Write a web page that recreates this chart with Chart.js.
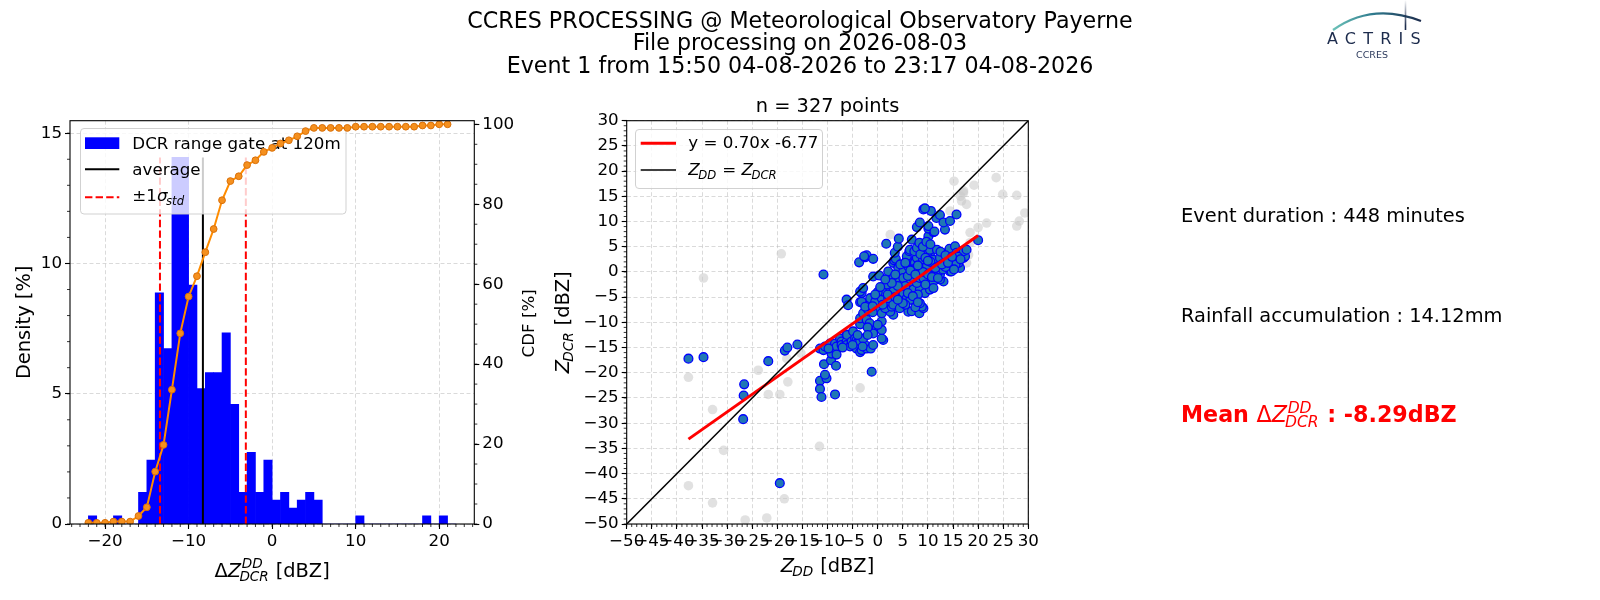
<!DOCTYPE html>
<html><head><meta charset="utf-8">
<script src="https://cdn.jsdelivr.net/npm/chart.js@4.4.0/dist/chart.umd.min.js"></script>
<style>
html,body{margin:0;padding:0;background:#fff;width:1600px;height:600px;overflow:hidden}
canvas{position:absolute;top:0}
</style></head><body>
<canvas id="ov" width="1600" height="600" style="left:0"></canvas>
<canvas id="c1" width="560" height="600" style="left:0;width:560px;height:600px"></canvas>
<canvas id="c2" width="570" height="600" style="left:530px;width:570px;height:600px"></canvas>
<script>
// ================= DATA =================
const titleLines = ['CCRES PROCESSING @ Meteorological Observatory Payerne',
  'File processing on 2026-08-03',
  'Event 1 from 15:50 04-08-2026 to 23:17 04-08-2026'];
const infoDuration = 'Event duration : 448 minutes';
const infoRain = 'Rainfall accumulation : 14.12mm';
const meanText = ' : -8.29dBZ';
const scatterTitle = 'n = 327 points';

// histogram bins (left edge, width 1 dBZ) and density [%]
const histBinLeft = [-22,-21,-20,-19,-18,-17,-16,-15,-14,-13,-12,-11,-10,-9,-8,-7,-6,-5,-4,-3,-2,-1,0,1,2,3,4,5,6,7,8,9,10,11,12,13,14,15,16,17,18,19,20,21];
const histDensity = [0.31,0,0,0.31,0,0,1.22,2.45,8.87,6.73,14.07,14.07,9.17,5.20,5.81,5.81,7.34,4.59,1.22,2.75,1.22,2.45,0.92,1.22,0.61,0.92,1.22,0.92,0,0,0,0,0.31,0,0,0,0,0,0,0,0.31,0,0.31,0];
const cdfPercent = [0.3,0.3,0.3,0.6,0.6,0.6,2.0,4.2,13.1,19.8,33.6,47.7,56.9,62.0,68.0,73.8,81.0,85.8,87.0,89.8,91.0,93.1,94.1,95.2,96.0,97.0,98.3,99.1,99.1,99.1,99.1,99.1,99.4,99.4,99.4,99.4,99.4,99.4,99.4,99.4,99.7,99.7,100,100];
const meanDZ = -8.29;
const stdDZ = 5.14;
const histXRange = [-24.2, 24.2];
const densityRange = [0, 15.48];
const cdfRange = [0, 100.9];

// scatter: Z_DD (x) vs Z_DCR (y)
const blueX = [-37.7,-34.7,-26.6,-26.7,-26.8,-21.8,-18.5,-18.0,-16.0,-19.5,-10.8,-1.2,
 -11.5,-10.8,-10.5,-10.7,-11.5,-10.2,-10.5,-11.5,-11.2,
 -9.5,-9.3,-9.2,-8.5,-8.5,-8.2,-8.2,-8.3,-8.5,-7.5,-7.2,-7.2,
 -6.2,-6.2,-6.1,-6.2,-5.5,-5.2,-6.2,-5.9,
 -4.9,-4.5,-4.2,-4.2,-4.2,-3.5,-3.5,-3.5,-3.5,-2.9,-3.5,-3.2,-3.2,-3.5,-2.9,-3.7,-3.2,
 -2.2,-2.5,-2.9,-1.0,-2.2,-1.6,-1.9,-1.9,-1.5,-2.5,-0.9,-2.5,-2.2,-0.9,-2.7,-1.4,-0.9,
 1.1,0.8,-0.2,0.8,0.8,0.1,-0.5,0.8,0.3,-0.9,0.8,
 3.1,2.5,1.5,2.8,2.5,2.1,1.1,2.5,1.8,2.5,2.1,1.7,3.1,3.1,
 3.1,4.4,3.1,4.8,4.4,4.1,3.3,3.6,3.4,4.0,4.2,5.1,
 6.1,6.8,5.8,6.1,6.4,5.1,5.1,6.1,6.8,5.8,5.8,6.3,6.4,6.8,5.1,
 8.3,9.1,8.8,8.4,7.4,7.1,8.4,7.8,7.1,8.4,7.8,8.4,7.4,8.8,7.8,7.3,7.8,8.8,8.3,7.8,8.4,
 9.4,10.4,10.4,11.1,9.1,10.3,9.8,11.1,10.4,9.1,10.1,10.4,10.1,11.1,10.1,10.1,10.6,9.1,9.4,
 11.1,13.1,12.4,12.4,12.1,11.4,13.1,11.1,12.4,11.8,11.3,11.7,12.4,
 14.4,14.7,14.1,13.7,14.1,14.3,15.4,13.4,13.1,14.4,
 16.4,16.1,15.7,16.7,15.7,17.1,17.4,17.1,17.7,20.0,
 5.5,6.0,7.0,9.0,9.5,10.0,12.0,13.0,2.0,3.5,4.0,0.0,1.0,-1.0,-2.0,-4.0,6.5,8.0,11.0,15.0,16.0,12.5,13.5,15.5,9.0,10.5,11.5,7.5,5.5,
 3.5,4.5,5.5,6.5,7.5,8.0,8.5,9.5,10.0,10.8,11.5,12.0,12.8,13.5,14.0,14.8,15.2,16.5,9.0,9.7,6.0,7.0,8.0,5.0,4.0,2.8,1.5,0.5,-0.5,-1.0,0.0,-2.0,-3.0,-5.0,-7.0,-9.8,10.5];
const blueY = [-17.2,-16.9,-22.3,-24.5,-29.2,-17.7,-15.6,-15.0,-14.4,-41.9,-0.5,-19.8,
 -15.2,-15.5,-14.8,-18.3,-21.6,-21.1,-20.4,-23.2,-24.8,
 -14.2,-17.5,-16.2,-15.2,-14.2,-14.8,-16.4,-18.6,-24.3,-13.2,-13.8,-14.5,
 -12.4,-13.8,-12.5,-14.5,-14.8,-13.8,-5.5,-6.6,
 -11.8,-13.2,-13.5,-14.2,-15.2,-15.9,-13.8,-10.4,-9.2,-8.2,-6.0,-5.9,-4.2,-3.9,-3.2,1.9,-15.5,
 -15.2,-14.5,-13.2,-11.5,-9.5,-10.2,-7.5,-6.7,-5.2,-6.9,-0.9,2.9,3.3,2.6,3.1,-15.2,-14.5,
 -13.5,-13.2,-11.2,-11.5,-9.8,-7.5,-5.9,-5.2,-0.7,-12.2,-8.2,
 -8.5,-7.9,-7.2,-6.9,-5.9,-5.2,-3.9,-3.2,-2.5,-1.2,0.1,5.6,-1.2,1.8,
 -6.5,-7.2,-3.9,-4.2,-1.9,0.8,2.3,2.6,3.8,5.0,6.6,-4.5,
 -7.9,-7.8,-5.2,-3.2,-2.2,-0.5,0.1,1.1,2.1,2.5,3.1,4.1,4.4,6.4,-1.2,
 -8.2,-7.2,-6.9,-6.2,-5.9,-3.5,-3.5,-2.2,-1.2,-1.2,0.1,0.8,1.8,2.1,2.8,4.1,4.8,5.4,5.8,8.9,9.8,
 -4.2,-3.5,-2.2,-1.9,-1.2,0.8,1.4,0.1,3.5,3.8,4.1,4.4,7.1,7.9,8.6,9.1,12.1,12.4,12.6,
 -3.2,-1.9,-1.5,-0.5,0.1,1.8,2.1,2.4,2.8,4.4,8.0,10.7,11.3,
 0.1,0.1,2.8,2.4,4.1,4.6,5.1,8.4,9.8,10.1,
 0.8,1.8,3.8,4.1,11.4,2.8,3.1,4.1,4.4,6.3,
 -2.8,-0.8,0.5,0.0,-2.5,-0.5,1.0,0.5,-4.5,-5.0,-2.8,-4.0,-6.5,-8.0,-11.0,-12.5,-5.5,-4.5,-0.8,2.5,3.0,4.0,1.0,1.5,2.5,2.0,-1.0,-7.0,-6.5,
 -0.5,1.5,1.8,0.3,-0.5,1.3,3.5,2.8,2.2,-1.0,0.8,-1.2,1.5,3.3,1.8,3.0,0.5,2.5,5.0,6.0,-4.2,-4.8,-6.0,-6.2,-5.5,-2.2,-1.5,-3.0,-4.5,-6.8,-10.5,-12.5,-14.8,-14.5,-15.0,-15.2,5.5];
const greyX = [-37.7,-34.7,-32.9,-30.7,-37.7,-32.9,-26.4,-22.1,-18.6,-19.2,-23.8,-21.8,-19.5,-17.9,-18.1,-15.3,-11.6,-3.5,2.5,15.2,19.2,23.6,24.9,27.7,27.7,28.2,21.7,20.0,18.4,17.7,16.7,17.1,14.4,17.7,18.1,18.4,16.1,17.1,16.5,29.3];
const greyY = [-20.9,-1.2,-27.3,-35.4,-42.4,-45.8,-49.2,-48.8,-45.0,3.6,-19.5,-24.3,-24.3,-21.8,-17.2,-16.1,-34.6,-23.0,7.4,18.0,17.2,18.7,15.4,15.2,9.1,10.1,9.7,8.8,7.8,13.4,14.1,16.1,12.1,1.8,3.4,5.8,3.8,15.7,15.0,11.7];
const fitSlope = 0.70;
const fitIntercept = -6.77;
const fitLabel = 'y = 0.70x -6.77';
const scatterRange = [-50, 30];

// ================= HELPERS =================
const FAM = '"DejaVu Sans"';
const TICK = 16.7, LAB = 19.4, BIG = 22.2;
function fnt(size, it, bold){ return (it?'italic ':'')+(bold?'bold ':'')+size+'px '+FAM; }
function minus(v){ return String(v).replace('-', '\u2212'); }
function richLayout(ctx, segs, size, bold){
  let w = 0; const out = [];
  for (const s of segs){
    if (s.t !== undefined){
      ctx.font = fnt(size, s.i, s.b !== undefined ? s.b : bold);
      const sw = ctx.measureText(s.t).width; out.push(Object.assign({x:w}, s)); w += sw;
    } else {
      const ss = size*0.7; ctx.font = fnt(ss, true, false);
      const a = s.sup ? ctx.measureText(s.sup).width + size*0.03 : 0;
      const b = s.sub ? ctx.measureText(s.sub).width - size*0.09 : 0;
      out.push(Object.assign({x:w}, s)); w += Math.max(a, b) + size*0.04;
    }
  }
  return {out, w};
}
function drawRich(ctx, segs, x, y, o){
  const size = o.size, bold = !!o.bold;
  ctx.save(); ctx.translate(x, y); if (o.rot) ctx.rotate(o.rot);
  ctx.fillStyle = o.color || '#000'; ctx.textBaseline = 'alphabetic'; ctx.textAlign = 'left';
  const L = richLayout(ctx, segs, size, bold);
  const x0 = o.align === 'center' ? -L.w/2 : 0;
  for (const s of L.out){
    if (s.t !== undefined){ ctx.font = fnt(size, s.i, s.b !== undefined ? s.b : bold); ctx.fillText(s.t, x0+s.x, 0); }
    else {
      ctx.font = fnt(size*0.7, true, false);
      if (s.sup) ctx.fillText(s.sup, x0+s.x+size*0.03, -size*0.44);
      if (s.sub) ctx.fillText(s.sub, x0+s.x-size*0.09, size*0.23);
    }
  }
  ctx.restore();
}
function roundRect(ctx, x, y, w, h, r){
  ctx.beginPath(); ctx.moveTo(x+r, y); ctx.lineTo(x+w-r, y); ctx.quadraticCurveTo(x+w, y, x+w, y+r);
  ctx.lineTo(x+w, y+h-r); ctx.quadraticCurveTo(x+w, y+h, x+w-r, y+h); ctx.lineTo(x+r, y+h);
  ctx.quadraticCurveTo(x, y+h, x, y+h-r); ctx.lineTo(x, y+r); ctx.quadraticCurveTo(x, y, x+r, y); ctx.closePath();
}
function drawMinor(ctx, scale, step, side, ca){
  ctx.save(); ctx.strokeStyle = '#000'; ctx.lineWidth = 0.8;
  const k0 = Math.ceil(scale.min/step - 1e-9), k1 = Math.floor(scale.max/step + 1e-9);
  for (let k = k0; k <= k1; k++){
    const p = scale.getPixelForValue(k*step);
    ctx.beginPath();
    if (side === 'bottom'){ ctx.moveTo(p, ca.bottom); ctx.lineTo(p, ca.bottom+3); }
    else if (side === 'left'){ ctx.moveTo(ca.left, p); ctx.lineTo(ca.left-3, p); }
    else { ctx.moveTo(ca.right, p); ctx.lineTo(ca.right+3, p); }
    ctx.stroke();
  }
  ctx.restore();
}
function spines(ctx, ca){
  ctx.save(); ctx.strokeStyle = '#000'; ctx.lineWidth = 1.1;
  ctx.strokeRect(ca.left, ca.top, ca.right-ca.left, ca.bottom-ca.top); ctx.restore();
}
const gridColor = 'rgba(176,176,176,0.6)';
function axisOpts(extra){
  return Object.assign({
    type: 'linear', offset: false,
    ticks: {font: {family: 'DejaVu Sans', size: TICK}, color: '#000', autoSkip: false, maxRotation: 0, minRotation: 0, includeBounds: false, padding: 3, callback: v => minus(v)},
    grid: {color: gridColor, lineWidth: 0.8, tickColor: '#000', tickLength: 5, tickWidth: 1.1, offset: false},
    border: {display: false, dash: [4, 2.5]}
  }, extra);
}

// ================= LEFT CHART: histogram + CDF =================
const maxDensity = Math.max(...histDensity);
const leftPlugin = {
  id: 'leftDeco',
  beforeDatasetDraw(chart, args){
    if (args.index !== 4) return;
    const ctx = chart.ctx; ctx.save();
    roundRect(ctx, 80.5, 128.5, 265.5, 85.5, 3.5);
    ctx.fillStyle = 'rgba(255,255,255,0.8)'; ctx.fill();
    ctx.strokeStyle = 'rgba(204,204,204,0.9)'; ctx.lineWidth = 1; ctx.stroke();
    ctx.fillStyle = '#0000ff'; ctx.fillRect(85, 137.3, 34.3, 11.7);
    ctx.strokeStyle = '#000'; ctx.lineWidth = 2; ctx.beginPath(); ctx.moveTo(85, 169.3); ctx.lineTo(119.3, 169.3); ctx.stroke();
    ctx.strokeStyle = '#ff0000'; ctx.setLineDash([7.4, 3.2]); ctx.beginPath(); ctx.moveTo(85, 197.3); ctx.lineTo(119.3, 197.3); ctx.stroke();
    ctx.setLineDash([]);
    ctx.fillStyle = '#000'; ctx.font = fnt(TICK); ctx.textBaseline = 'alphabetic';
    ctx.fillText(chart.data.datasets[0].label, 132.3, 149.3);
    ctx.fillText(chart.data.datasets[1].label, 132.3, 175);
    drawRich(ctx, [{t:'\u00b11'}, {t:'\u03c3', i:true}, {sub:'std'}], 132.3, 201, {size: TICK});
    ctx.restore();
  },
  afterDraw(chart){
    const ctx = chart.ctx, ca = chart.chartArea, s = chart.scales;
    spines(ctx, ca);
    drawMinor(ctx, s.x, 1, 'bottom', ca);
    drawMinor(ctx, s.y, 1, 'left', ca);
    drawMinor(ctx, s.y2, 5, 'right', ca);
    drawRich(ctx, [{t:'Density [%]'}], 29.7, (ca.top+ca.bottom)/2, {size: LAB, rot: -Math.PI/2, align: 'center'});
    drawRich(ctx, [{t:'CDF [%]'}], 534, (ca.top+ca.bottom)/2 + 1, {size: TICK, rot: -Math.PI/2, align: 'center'});
    drawRich(ctx, [{t:'\u0394'}, {t:'Z', i:true}, {sup:'DD', sub:'DCR'}, {t:' [dBZ]'}], (ca.left+ca.right)/2, 576.5, {size: LAB, align: 'center'});
  }
};
new Chart(document.getElementById('c1'), {
  type: 'bar',
  data: { datasets: [
    {type: 'bar', label: 'DCR range gate at 120m', data: histBinLeft.map((b, i) => ({x: b + 0.5, y: histDensity[i]})),
     backgroundColor: '#0000ff', borderWidth: 0, barPercentage: 1, categoryPercentage: 1, yAxisID: 'y', order: 5},
    {type: 'line', label: 'average', data: [{x: meanDZ, y: 0}, {x: meanDZ, y: maxDensity}],
     borderColor: '#000', borderWidth: 2, pointRadius: 0, yAxisID: 'y', order: 4},
    {type: 'line', label: '-1 sigma', data: [{x: meanDZ - stdDZ, y: 0}, {x: meanDZ - stdDZ, y: maxDensity}],
     borderColor: '#ff0000', borderWidth: 2, borderDash: [7.4, 3.2], pointRadius: 0, yAxisID: 'y', order: 3},
    {type: 'line', label: '+1 sigma', data: [{x: meanDZ + stdDZ, y: 0}, {x: meanDZ + stdDZ, y: maxDensity}],
     borderColor: '#ff0000', borderWidth: 2, borderDash: [7.4, 3.2], pointRadius: 0, yAxisID: 'y', order: 2},
    {type: 'line', label: 'CDF', data: histBinLeft.map((b, i) => ({x: b, y: cdfPercent[i]})),
     borderColor: '#ff8c00', borderWidth: 2, pointRadius: 3.4, pointBorderWidth: 1,
     pointBackgroundColor: '#f5901e', pointBorderColor: '#d9700a', yAxisID: 'y2', order: 1}
  ]},
  options: {
    responsive: false, animation: false, events: [],
    layout: {padding: {left: 10, right: 25.7, top: 120.7, bottom: 26}},
    plugins: {legend: {display: false}, tooltip: {enabled: false}, title: {display: false}},
    scales: {
      x: axisOpts({min: histXRange[0], max: histXRange[1], position: 'bottom', afterFit: s => { s.height = 50; },
        ticks: Object.assign({}, axisOpts().ticks, {stepSize: 10})}),
      y: axisOpts({min: densityRange[0], max: densityRange[1], position: 'left', afterFit: s => { s.width = 60; },
        ticks: Object.assign({}, axisOpts().ticks, {stepSize: 5})}),
      y2: axisOpts({min: cdfRange[0], max: cdfRange[1], position: 'right', afterFit: s => { s.width = 60; },
        ticks: Object.assign({}, axisOpts().ticks, {stepSize: 20}),
        grid: {drawOnChartArea: false, tickColor: '#000', tickLength: 5, tickWidth: 1.1}})
    }
  },
  plugins: [leftPlugin]
});

// ================= RIGHT CHART: scatter =================
const xMinBlue = Math.min(...blueX), xMaxBlue = Math.max(...blueX);
const OFF2 = 530;
const scatterPlugin = {
  id: 'scatterDeco',
  afterDatasetsDraw(chart){
    const ctx = chart.ctx; ctx.save(); ctx.translate(-OFF2, 0);
    roundRect(ctx, 635.5, 129.5, 187, 59, 3.5);
    ctx.fillStyle = 'rgba(255,255,255,0.8)'; ctx.fill();
    ctx.strokeStyle = 'rgba(204,204,204,0.9)'; ctx.lineWidth = 1; ctx.stroke();
    ctx.strokeStyle = '#ff0000'; ctx.lineWidth = 3; ctx.beginPath(); ctx.moveTo(640.7, 143.3); ctx.lineTo(676, 143.3); ctx.stroke();
    ctx.strokeStyle = '#000'; ctx.lineWidth = 1.5; ctx.beginPath(); ctx.moveTo(640.7, 170); ctx.lineTo(676, 170); ctx.stroke();
    ctx.fillStyle = '#000'; ctx.font = fnt(TICK); ctx.textBaseline = 'alphabetic';
    ctx.fillText(fitLabel, 688.3, 148.3);
    drawRich(ctx, [{t:'Z', i:true}, {sub:'DD'}, {t:' = '}, {t:'Z', i:true}, {sub:'DCR'}], 688.3, 175.3, {size: TICK});
    ctx.restore();
  },
  afterDraw(chart){
    const ctx = chart.ctx, ca = chart.chartArea, s = chart.scales;
    spines(ctx, ca);
    drawMinor(ctx, s.x, 1, 'bottom', ca);
    drawMinor(ctx, s.y, 1, 'left', ca);
    ctx.save(); ctx.fillStyle = '#000'; ctx.font = fnt(LAB); ctx.textAlign = 'center'; ctx.textBaseline = 'alphabetic';
    ctx.fillText(scatterTitle, (ca.left+ca.right)/2, 111.7); ctx.restore();
    drawRich(ctx, [{t:'Z', i:true}, {sub:'DD'}, {t:' [dBZ]'}], (ca.left+ca.right)/2, 572, {size: LAB, align: 'center'});
    drawRich(ctx, [{t:'Z', i:true}, {sub:'DCR'}, {t:' [dBZ]'}], 569 - OFF2, (ca.top+ca.bottom)/2, {size: LAB, rot: -Math.PI/2, align: 'center'});
  }
};
new Chart(document.getElementById('c2'), {
  type: 'scatter',
  data: { datasets: [
    {label: 'excluded', data: greyX.map((x, i) => ({x, y: greyY[i]})), pointRadius: 4.8, pointBorderWidth: 0,
     pointBackgroundColor: 'rgba(200,200,200,0.55)', pointBorderColor: 'rgba(0,0,0,0)', order: 10},
    {label: 'points', data: blueX.map((x, i) => ({x, y: blueY[i]})), pointRadius: 4.4, pointBorderWidth: 1.3,
     pointBackgroundColor: '#1f77b4', pointBorderColor: '#0000ff', order: 9},
    {type: 'line', label: fitLabel, data: [{x: xMinBlue, y: fitSlope*xMinBlue + fitIntercept}, {x: xMaxBlue, y: fitSlope*xMaxBlue + fitIntercept}],
     borderColor: '#ff0000', borderWidth: 3, pointRadius: 0, order: 8},
    {type: 'line', label: 'Z_DD = Z_DCR', data: [{x: scatterRange[0], y: scatterRange[0]}, {x: scatterRange[1], y: scatterRange[1]}],
     borderColor: '#000', borderWidth: 1.5, pointRadius: 0, order: 7}
  ]},
  options: {
    responsive: false, animation: false, events: [],
    layout: {padding: {left: 30, right: 71.7, top: 120.7, bottom: 26}},
    plugins: {legend: {display: false}, tooltip: {enabled: false}, title: {display: false}},
    scales: {
      x: axisOpts({min: scatterRange[0], max: scatterRange[1], position: 'bottom', afterFit: s => { s.height = 50; },
        ticks: Object.assign({}, axisOpts().ticks, {stepSize: 5})}),
      y: axisOpts({min: scatterRange[0], max: scatterRange[1], position: 'left', afterFit: s => { s.width = 66.7; },
        ticks: Object.assign({}, axisOpts().ticks, {stepSize: 5})})
    }
  },
  plugins: [scatterPlugin]
});

// ================= OVERLAY: titles, info, logo =================
(function(){
  const ctx = document.getElementById('ov').getContext('2d');
  ctx.fillStyle = '#000'; ctx.textBaseline = 'alphabetic';
  ctx.font = fnt(BIG); ctx.textAlign = 'center';
  const base = [27.5, 50.4, 73.3];
  titleLines.forEach((t, i) => ctx.fillText(t, 800, base[i]));
  ctx.textAlign = 'left'; ctx.font = fnt(LAB);
  ctx.fillText(infoDuration, 1181, 221.7);
  ctx.fillText(infoRain, 1181, 322.3);
  drawRich(ctx, [{t:'Mean ', b:true}, {t:'\u0394', b:false}, {t:'Z', i:true, b:false}, {sup:'DD', sub:'DCR'}, {t:meanText, b:true}],
    1181, 422.3, {size: BIG, bold: true, color: '#ff0000'});
  // logo
  ctx.save();
  const g = ctx.createLinearGradient(1333, 0, 1421, 0);
  g.addColorStop(0, '#6cc2b8'); g.addColorStop(0.45, '#2f7b8e'); g.addColorStop(1, '#1c2b4c');
  ctx.strokeStyle = g; ctx.lineWidth = 2.2;
  ctx.beginPath(); ctx.moveTo(1333, 30); ctx.quadraticCurveTo(1372, 2, 1421, 21); ctx.stroke();
  const g2 = ctx.createLinearGradient(0, 0, 0, 26);
  g2.addColorStop(0, 'rgba(28,43,76,0)'); g2.addColorStop(1, '#1c2b4c');
  ctx.strokeStyle = g2; ctx.lineWidth = 1.6; ctx.beginPath(); ctx.moveTo(1405.5, 0); ctx.lineTo(1405.5, 30); ctx.stroke();
  ctx.fillStyle = '#1c2b4c'; ctx.font = '16px ' + FAM; ctx.textAlign = 'left';
  try { ctx.letterSpacing = '7.2px'; } catch(e) {}
  ctx.fillText('ACTRIS', 1327, 44);
  try { ctx.letterSpacing = '0px'; } catch(e) {}
  ctx.fillStyle = '#2c3a5c'; ctx.font = '9.5px ' + FAM; ctx.textAlign = 'center';
  ctx.fillText('CCRES', 1372, 57.5);
  ctx.restore();
})();
</script>
</body></html>
